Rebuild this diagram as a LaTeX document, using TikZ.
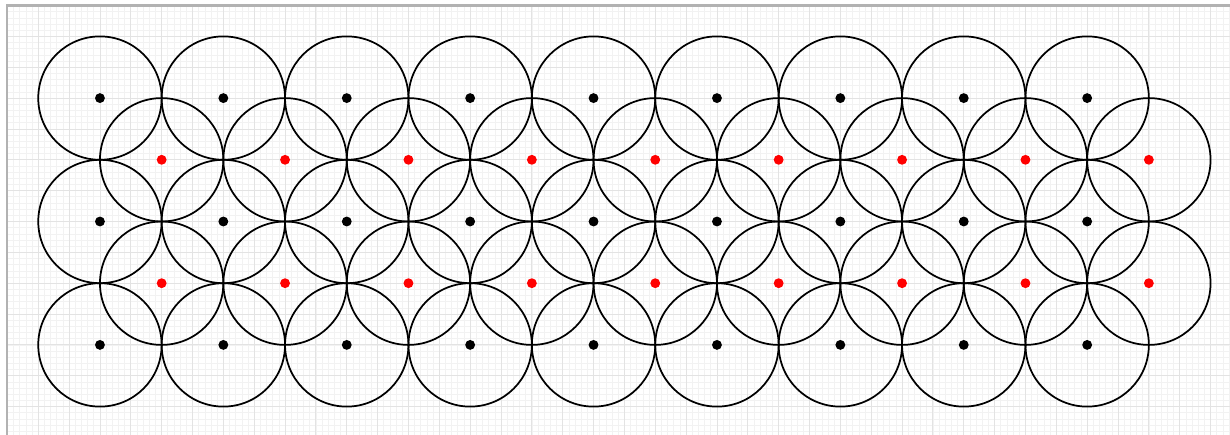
\documentclass[tikz,border=0pt]{standalone}
\usepackage{tikz}
\usepackage{xcolor}
\usetikzlibrary{calc}

\begin{document}
\begin{tikzpicture}[x=0.5cm, y=0.5cm, line width=0.8pt]
            \useasboundingbox (-3.24,-10.92) rectangle (36.63,3.18);
            \draw[gray!10, line width=0.3pt, step=0.2] (-3,-10.92) grid (36.63,3);
            \draw[gray!22, line width=0.4pt, step=1] (-3,-10.92) grid (36.63,3);
            \draw[gray!60, line width=1pt] (-3,-10.92) -- (-3,3) -- (36.63,3);
            % black centres
            \foreach \i in {0,...,8} {
                \foreach \j in {0,1,2} {
                    \draw (4*\i,-4*\j) circle (2);
                    \fill[black] (4*\i,-4*\j) circle (0.16);
                }
            }
            % red centres
            \foreach \i in {0,...,8} {
                \foreach \j in {0,1} {
                    \draw (4*\i+2,-4*\j-2) circle (2);
                    \fill[red] (4*\i+2,-4*\j-2) circle (0.16);
                }
            }
        \end{tikzpicture}
\end{document}
